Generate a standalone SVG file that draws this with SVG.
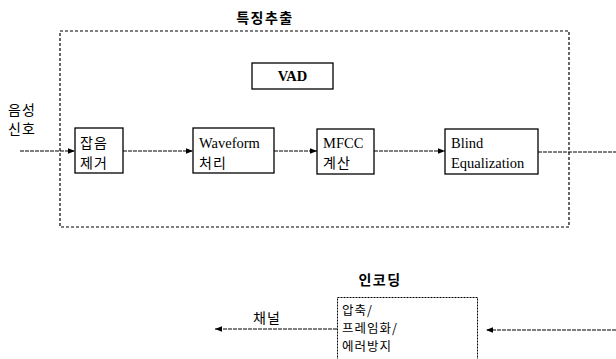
<svg xmlns="http://www.w3.org/2000/svg" width="616" height="359" viewBox="0 0 616 359">
<defs>
<marker id="ah" viewBox="0 0 10 10" refX="10" refY="5" markerWidth="7" markerHeight="7" orient="auto-start-reverse" markerUnits="userSpaceOnUse">
<path d="M0,1 L10,5 L0,9 z" fill="#000"/>
</marker>
</defs>
<style>
.box{fill:#fff;stroke:#000;stroke-width:1.3}
.dash{fill:none;stroke:#000;stroke-width:1.2;stroke-dasharray:3 2}
.dot{fill:none;stroke:#000;stroke-width:1;stroke-dasharray:2 1}
.ln{fill:none;stroke:#000;stroke-width:1;stroke-dasharray:4 1}
.ko{font-family:"Noto Sans CJK KR","Noto Sans",sans-serif;font-size:14px;fill:#000;letter-spacing:1px}
.ks{font-family:"Noto Sans CJK KR","Noto Sans",sans-serif;font-size:12.5px;fill:#000;letter-spacing:1px}
.kob{font-family:"Noto Sans CJK KR","Noto Sans",sans-serif;font-size:14px;font-weight:bold;fill:#000;letter-spacing:1.5px}
.en{font-family:"Liberation Serif",serif;font-size:14.5px;fill:#000}
</style>
<rect width="616" height="359" fill="#fff"/>
<g id="feature-extraction">
<text class="kob" x="265" y="23" text-anchor="middle">특징추출</text>
<rect class="dash" x="60" y="31" width="509" height="196"/>
</g>
<g id="input-label">
<text class="ko" x="22" y="115" text-anchor="middle">음성</text>
<text class="ko" x="22" y="134" text-anchor="middle">신호</text>
</g>
<g id="vad">
<rect class="box" x="252" y="63" width="81" height="26"/>
<text class="en" x="292.5" y="81" text-anchor="middle" font-weight="bold" font-size="13">VAD</text>
</g>
<g id="noise">
<rect class="box" x="75" y="128" width="48" height="45"/>
<text class="ko" x="80" y="148">잡음</text>
<text class="ko" x="80" y="168">제거</text>
</g>
<g id="waveform">
<rect class="box" x="193" y="128" width="81" height="45"/>
<text class="en" x="199" y="148">Waveform</text>
<text class="ko" x="199" y="168">처리</text>
</g>
<g id="mfcc">
<rect class="box" x="317" y="129" width="57" height="45"/>
<text class="en" x="323" y="148">MFCC</text>
<text class="ko" x="323" y="168">계산</text>
</g>
<g id="blind">
<rect class="box" x="445" y="129" width="93" height="45"/>
<text class="en" x="451" y="148">Blind</text>
<text class="en" x="451" y="168">Equalization</text>
</g>
<g id="encoding">
<text class="kob" x="380" y="285" text-anchor="middle">인코딩</text>
<rect class="dot" x="337.5" y="297.5" width="140" height="70"/>
<text class="ks" x="342" y="315">압축/</text>
<text class="ks" x="342" y="333">프레임화/</text>
<text class="ks" x="342" y="351">에러방지</text>
</g>
<g id="channel-label">
<text class="ko" x="267" y="323" text-anchor="middle">채널</text>
</g>
<g id="connectors">
<line class="ln" x1="20" y1="151" x2="75" y2="151" marker-end="url(#ah)"/>
<line class="ln" x1="123" y1="151" x2="193" y2="151" marker-end="url(#ah)"/>
<line class="ln" x1="274" y1="151" x2="317" y2="151" marker-end="url(#ah)"/>
<line class="ln" x1="374" y1="151" x2="445" y2="151" marker-end="url(#ah)"/>
<line class="ln" x1="538" y1="152" x2="616" y2="152"/>
<line class="ln" x1="337" y1="329" x2="215" y2="329" marker-end="url(#ah)"/>
<line class="ln" x1="616" y1="330" x2="486" y2="330" marker-end="url(#ah)"/>
</g>
</svg>
